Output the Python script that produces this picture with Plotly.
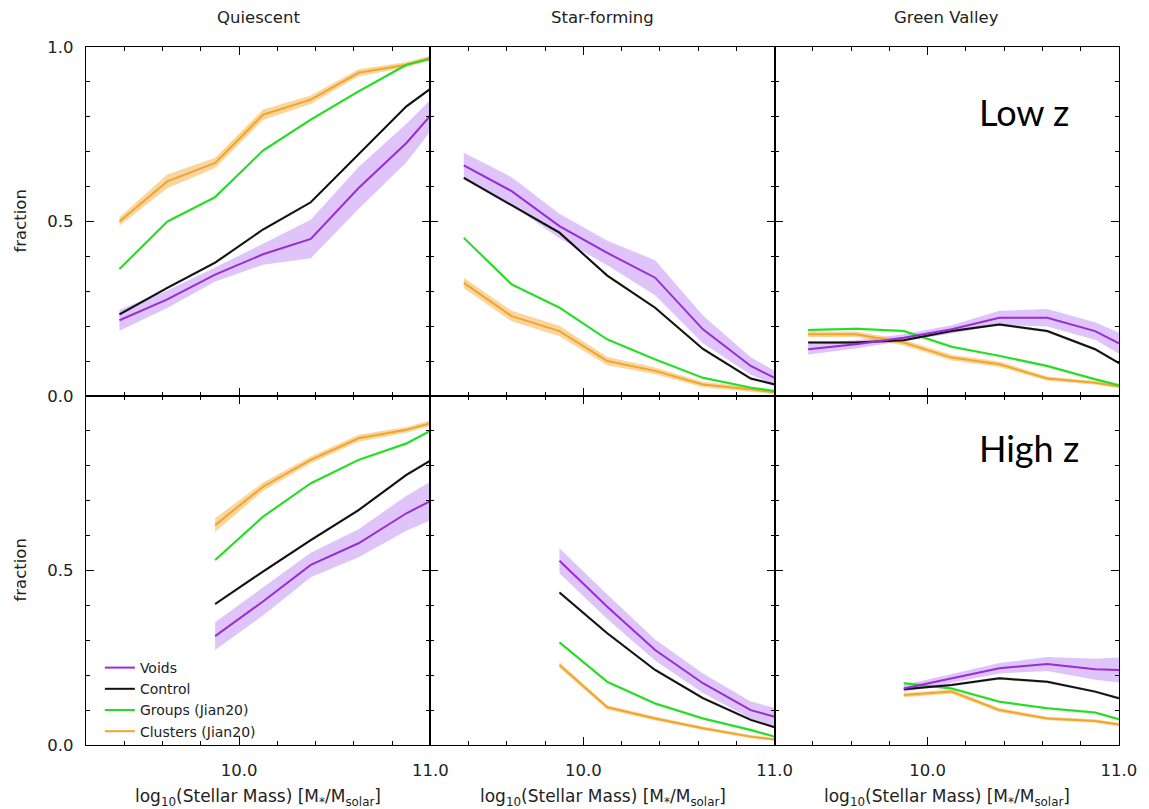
import plotly.graph_objects as go
from plotly.subplots import make_subplots

# ---------------- data ----------------
x_low = [9.375, 9.625, 9.875, 10.125, 10.375, 10.625, 10.875, 11.0]
x_high = [9.875, 10.125, 10.375, 10.625, 10.875, 11.0]

series_names = ["Voids", "Control", "Groups (Jian20)", "Clusters (Jian20)"]
column_titles = ["Quiescent", "Star-forming", "Green Valley"]
row_labels = ["Low z", "High z"]

# Low z  ----------------------------------------------------------
q_low_voids = [0.217, 0.277, 0.348, 0.406, 0.450, 0.596, 0.725, 0.803]
q_low_voids_err = [0.030, 0.025, 0.020, 0.030, 0.055, 0.060, 0.055, 0.045]
q_low_control = [0.234, 0.310, 0.382, 0.477, 0.555, 0.693, 0.830, 0.880]
q_low_groups = [0.364, 0.500, 0.570, 0.703, 0.792, 0.873, 0.949, 0.966]
q_low_clusters = [0.500, 0.615, 0.668, 0.806, 0.849, 0.926, 0.949, 0.969]
q_low_clusters_err = [0.012, 0.020, 0.015, 0.015, 0.012, 0.010, 0.008, 0.006]

sf_low_voids = [0.661, 0.587, 0.487, 0.410, 0.339, 0.191, 0.086, 0.052]
sf_low_voids_err = [0.036, 0.040, 0.035, 0.035, 0.050, 0.040, 0.025, 0.020]
sf_low_control = [0.625, 0.547, 0.468, 0.345, 0.253, 0.135, 0.050, 0.033]
sf_low_groups = [0.453, 0.320, 0.253, 0.162, 0.105, 0.052, 0.024, 0.014]
sf_low_clusters = [0.324, 0.229, 0.186, 0.100, 0.072, 0.033, 0.019, 0.011]
sf_low_clusters_err = [0.015, 0.015, 0.015, 0.012, 0.010, 0.008, 0.006, 0.005]

gv_low_voids = [0.134, 0.148, 0.167, 0.191, 0.224, 0.224, 0.186, 0.151]
gv_low_voids_err = [0.015, 0.012, 0.010, 0.012, 0.020, 0.025, 0.025, 0.030]
gv_low_control = [0.153, 0.153, 0.160, 0.186, 0.205, 0.186, 0.134, 0.094]
gv_low_groups = [0.189, 0.193, 0.186, 0.141, 0.115, 0.086, 0.048, 0.031]
gv_low_clusters = [0.177, 0.177, 0.153, 0.110, 0.091, 0.050, 0.038, 0.027]
gv_low_clusters_err = [0.008, 0.008, 0.008, 0.008, 0.008, 0.006, 0.005, 0.005]

# High z ----------------------------------------------------------
q_high_voids = [0.312, 0.411, 0.516, 0.578, 0.664, 0.699]
q_high_voids_err = [0.040, 0.040, 0.035, 0.040, 0.050, 0.055]
q_high_control = [0.404, 0.497, 0.587, 0.673, 0.774, 0.815]
q_high_groups = [0.530, 0.654, 0.750, 0.817, 0.864, 0.900]
q_high_clusters = [0.630, 0.740, 0.817, 0.879, 0.903, 0.922]
q_high_clusters_err = [0.020, 0.012, 0.010, 0.010, 0.008, 0.008]

sf_high_voids = [0.528, 0.396, 0.272, 0.177, 0.100, 0.081]
sf_high_voids_err = [0.036, 0.035, 0.030, 0.028, 0.025, 0.025]
sf_high_control = [0.437, 0.320, 0.215, 0.134, 0.072, 0.051]
sf_high_groups = [0.294, 0.181, 0.119, 0.076, 0.043, 0.024]
sf_high_clusters = [0.229, 0.108, 0.076, 0.048, 0.024, 0.016]
sf_high_clusters_err = [0.008, 0.006, 0.006, 0.005, 0.005, 0.004]

gv_high_voids = [0.162, 0.191, 0.220, 0.232, 0.217, 0.215]
gv_high_voids_err = [0.010, 0.012, 0.015, 0.020, 0.030, 0.036]
gv_high_control = [0.160, 0.172, 0.191, 0.181, 0.153, 0.134]
gv_high_groups = [0.177, 0.162, 0.124, 0.105, 0.093, 0.074]
gv_high_clusters = [0.143, 0.153, 0.100, 0.076, 0.069, 0.059]
gv_high_clusters_err = [0.006, 0.006, 0.006, 0.005, 0.005, 0.005]

x_ticks = [10.0, 11.0]
y_ticks = [0.0, 0.5, 1.0]

# ---------------- styles ----------------
line_colors = ["#9A2BD6", "#111111", "#22DD22", "#F2A52A"]
band_colors = ["rgba(172,108,238,0.40)", "rgba(60,60,60,0.25)",
               "rgba(34,221,34,0.25)", "rgba(242,165,42,0.45)"]
control_err = 0.004
groups_err = 0.004

panels = {
    (1, 1): (x_low, [q_low_voids, q_low_control, q_low_groups, q_low_clusters],
             [q_low_voids_err, None, None, q_low_clusters_err]),
    (1, 2): (x_low, [sf_low_voids, sf_low_control, sf_low_groups, sf_low_clusters],
             [sf_low_voids_err, None, None, sf_low_clusters_err]),
    (1, 3): (x_low, [gv_low_voids, gv_low_control, gv_low_groups, gv_low_clusters],
             [gv_low_voids_err, None, None, gv_low_clusters_err]),
    (2, 1): (x_high, [q_high_voids, q_high_control, q_high_groups, q_high_clusters],
             [q_high_voids_err, None, None, q_high_clusters_err]),
    (2, 2): (x_high, [sf_high_voids, sf_high_control, sf_high_groups, sf_high_clusters],
             [sf_high_voids_err, None, None, sf_high_clusters_err]),
    (2, 3): (x_high, [gv_high_voids, gv_high_control, gv_high_groups, gv_high_clusters],
             [gv_high_voids_err, None, None, gv_high_clusters_err]),
}

fig = make_subplots(rows=2, cols=3, horizontal_spacing=0, vertical_spacing=0)

for (r, c), (xs, ys_list, errs) in panels.items():
    # bands first
    for i in [0, 3, 1, 2]:
        ys = ys_list[i]
        err = errs[i]
        if err is None:
            err = [control_err if i == 1 else groups_err] * len(ys)
        upper = [y + e for y, e in zip(ys, err)]
        lower = [y - e for y, e in zip(ys, err)]
        fig.add_trace(go.Scatter(
            x=list(xs) + list(xs[::-1]), y=upper + lower[::-1],
            fill="toself", fillcolor=band_colors[i], line=dict(width=0),
            mode="lines", hoverinfo="skip", showlegend=False), row=r, col=c)
    # lines
    for i in [3, 2, 1, 0]:
        fig.add_trace(go.Scatter(
            x=xs, y=ys_list[i], mode="lines", name=series_names[i],
            line=dict(color=line_colors[i], width=2),
            showlegend=((r, c) == (1, 1)), legendrank=i + 1), row=r, col=c)

TXT = "#222"
axis_common = dict(showline=True, linecolor="black", linewidth=1.2, mirror="ticks",
                   ticks="inside", ticklen=8, tickwidth=1, tickcolor="black",
                   showgrid=False, zeroline=False,
                   tickfont=dict(family="DejaVu Sans", size=16.5, color=TXT))

for r in (1, 2):
    for c in (1, 2, 3):
        fig.update_xaxes(range=[9.2, 11.0], tickvals=x_ticks,
                         ticktext=[f"{v:.1f}" for v in x_ticks],
                         showticklabels=(r == 2), ticklabelstandoff=10,
                         minor=dict(dtick=0.2, tick0=0, ticks="inside", ticklen=4,
                                    tickcolor="black", showgrid=False),
                         row=r, col=c, **axis_common)
        ytext = [f"{v:.1f}" for v in y_ticks]
        if r == 2:
            ytext[-1] = ""
        fig.update_yaxes(range=[0, 1.0], tickvals=y_ticks, ticktext=ytext,
                         showticklabels=(c == 1), ticklabelstandoff=8,
                         minor=dict(dtick=0.1, tick0=0, ticks="inside", ticklen=4,
                                    tickcolor="black", showgrid=False),
                         row=r, col=c, **axis_common)

annotations = []
for k, t in enumerate(column_titles):
    annotations.append(dict(text=t, x=(k + 0.5) / 3, y=1, xref="paper", yref="paper",
                            yshift=30, showarrow=False, xanchor="center", yanchor="middle",
                            font=dict(family="DejaVu Sans", size=16.5, color=TXT)))
    annotations.append(dict(text="log<sub>10</sub>(Stellar Mass) [M<sub>*</sub>/M<sub>solar</sub>]",
                            x=(k + 0.5) / 3, y=0, xref="paper", yref="paper",
                            yshift=-52, showarrow=False, xanchor="center", yanchor="middle",
                            font=dict(family="DejaVu Sans", size=17, color=TXT)))
for yc in (0.75, 0.25):
    annotations.append(dict(text="fraction", x=0, y=yc, xref="paper", yref="paper",
                            xshift=-66, textangle=-90, showarrow=False,
                            xanchor="center", yanchor="middle",
                            font=dict(family="DejaVu Sans", size=16.5, color=TXT)))
annotations.append(dict(text=row_labels[0], x=(985 - 86) / 1042, y=(745 - 112) / 698,
                        xref="paper", yref="paper", xanchor="left", yanchor="middle",
                        showarrow=False, font=dict(family="Lato", size=36, color="black")))
annotations.append(dict(text=row_labels[1], x=(985 - 86) / 1042, y=(745 - 448) / 698,
                        xref="paper", yref="paper", xanchor="left", yanchor="middle",
                        showarrow=False, font=dict(family="Lato", size=36, color="black")))

fig.update_layout(
    width=1149, height=809,
    margin=dict(l=86, r=21, t=47, b=64),
    paper_bgcolor="white", plot_bgcolor="white",
    annotations=annotations,
    legend=dict(x=(100 - 86) / 1042, y=(745 - 652) / 698, xanchor="left", yanchor="top",
                bgcolor="rgba(0,0,0,0)", traceorder="normal",
                font=dict(family="DejaVu Sans", size=14, color=TXT),
                tracegroupgap=0, itemwidth=30),
)

fig.write_html("out.html")
